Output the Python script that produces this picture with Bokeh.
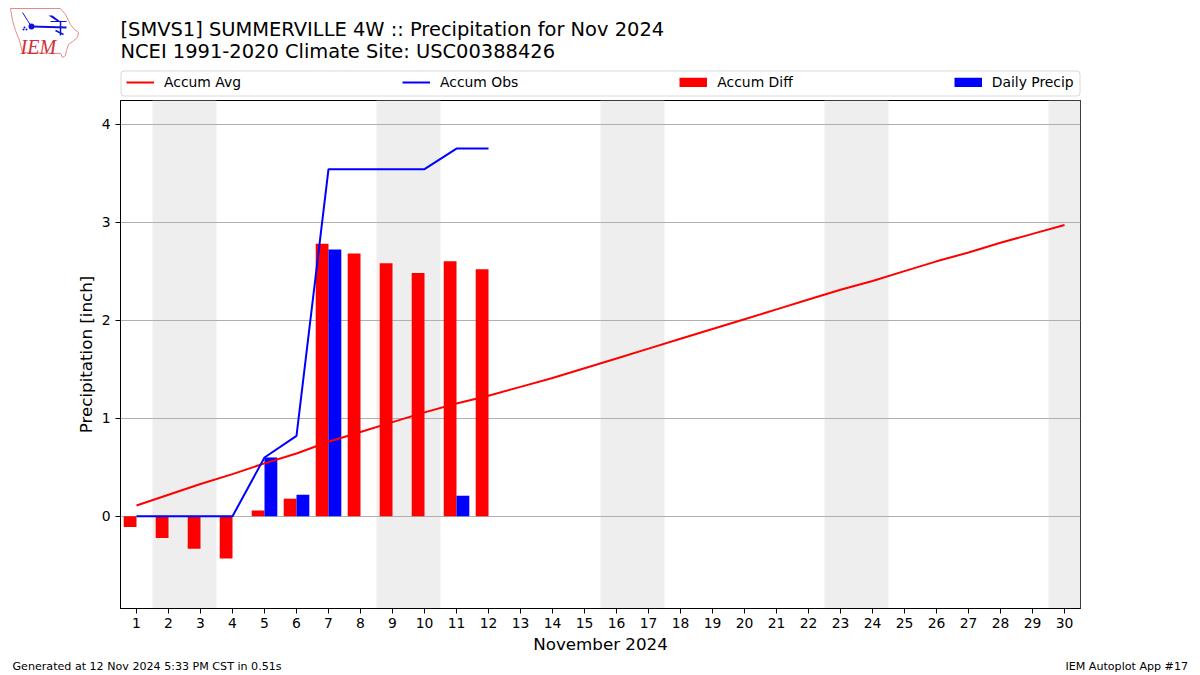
from bokeh.plotting import figure
from bokeh.embed import file_html
from bokeh.resources import INLINE
from bokeh.layouts import column
from bokeh.models import Range1d, FixedTicker, Legend, LegendItem, Label
from bokeh.models import ColumnDataSource

days = list(range(1, 31))
accum_avg = [0.11, 0.22, 0.33, 0.43, 0.54, 0.64, 0.76, 0.86, 0.96, 1.06, 1.15, 1.23, 1.32, 1.41, 1.51,
             1.61, 1.71, 1.81, 1.91, 2.01, 2.11, 2.21, 2.31, 2.40, 2.50, 2.60, 2.69, 2.79, 2.88, 2.97]
obs_days = [1, 2, 3, 4, 5, 6, 7, 8, 9, 10, 11, 12]
accum_obs = [0, 0, 0, 0, 0.60, 0.82, 3.54, 3.54, 3.54, 3.54, 3.75, 3.75]
accum_diff = [-0.11, -0.22, -0.33, -0.43, 0.06, 0.18, 2.78, 2.68, 2.58, 2.48, 2.60, 2.52]
daily_precip = [0, 0, 0, 0, 0.60, 0.22, 2.72, 0, 0, 0, 0.21, 0]
weekend_start = [1.5, 8.5, 15.5, 22.5, 29.5]
weekend_end = [3.5, 10.5, 17.5, 24.5, 30.5]
y_ticks = [0, 1, 2, 3, 4]

FONT = "DejaVu Sans"
Y_MIN, Y_MAX = -0.94, 4.24


def strip_figure(height, ymax):
    """A page-wide band whose data coordinates are page pixels (y pointing down)."""
    f = figure(width=1200, height=height, output_backend="svg", toolbar_location=None,
               x_range=Range1d(0, 1200), y_range=Range1d(ymax, ymax - height),
               min_border=0, x_axis_type=None, y_axis_type=None)
    f.xgrid.visible = False
    f.ygrid.visible = False
    f.outline_line_color = None
    f.background_fill_color = "white"
    f.border_fill_color = "white"
    return f


def put_text(f, txt, px, py, size, align="left", color="black", style="normal", font=FONT):
    f.add_layout(Label(x=px, y=py, text=txt, text_font=font, text_font_size=size, text_align=align,
                       text_baseline="alphabetic", text_color=color, text_font_style=style))


# ---- header: logo, titles, legend
head = strip_figure(100, 100)
put_text(head, "[SMVS1] SUMMERVILLE 4W :: Precipitation for Nov 2024", 120, 29, "19.45px")
put_text(head, "NCEI 1991-2020 Climate Site: USC00388426", 120, 51, "19.45px")

logo_x = [10, 60, 65, 68, 70, 73, 78, 77, 72, 68, 66, 65, 62, 60, 22, 19, 15, 12]
logo_y = [8, 8, 14, 20, 24, 28, 32, 37, 41, 44, 50, 55, 57, 53, 52, 40, 30, 20]
head.patch(logo_x, logo_y, fill_color=None, line_color="#e58a8a", line_width=1)
head.line([31, 66], [26, 27], line_color="#1010e0", line_width=2)
head.line([22, 27, 31], [12, 20, 26], line_color="#1010e0", line_width=1)
head.line([50, 66], [21, 21], line_color="#1010e0", line_width=1)
head.patch([48, 52, 60, 57], [15, 15, 21, 21], fill_color="#1010e0", line_color=None)
head.line([60, 60], [21, 35], line_color="#1010e0", line_width=1.5)
head.line([55, 63], [30, 34], line_color="#1010e0", line_width=1.5)
head.scatter([31], [26], size=6, fill_color="#1010e0", line_color=None)
head.scatter([24, 26, 23], [27, 29, 29], size=2, fill_color="#1010e0", line_color=None)
put_text(head, "IEM", 20, 46, "20px", color="#d0303a", style="italic", font="Liberation Serif")

head.quad(left=[120.5], right=[1079.5], top=[70.5], bottom=[95.5], border_radius=3,
          fill_color="white", line_color="#d9d9d9", line_width=1)
# legend keys: drawn off the band, only their swatches show
off = [-20, -10]
k_avg = head.line(off, off, line_color="red", line_width=2)
k_obs = head.line(off, off, line_color="blue", line_width=2)
k_diff = head.line(off, off, line_color="red", line_width=9.5)
k_rain = head.line(off, off, line_color="blue", line_width=9.5)
legend = Legend(items=[LegendItem(label="Accum Avg", renderers=[k_avg]),
                       LegendItem(label="Accum Obs", renderers=[k_obs]),
                       LegendItem(label="Accum Diff", renderers=[k_diff]),
                       LegendItem(label="Daily Precip", renderers=[k_rain])],
                orientation="horizontal", location=(126, 10), spacing=161,
                glyph_width=28, glyph_height=10, label_standoff=10,
                label_text_font=FONT, label_text_font_size="13.9px", label_text_color="black",
                label_height=14, margin=0, padding=4,
                border_line_color=None, background_fill_alpha=0)
head.add_layout(legend, "center")

# ---- main chart
p = figure(width=1200, height=558, output_backend="svg", toolbar_location=None,
           x_range=Range1d(0.5, 30.5), y_range=Range1d(Y_MIN, Y_MAX),
           min_border_left=120, min_border_right=120, min_border_top=0, min_border_bottom=50,
           frame_width=960, frame_height=508)
p.background_fill_color = "white"
p.border_fill_color = "white"
p.outline_line_color = "black"
p.outline_line_width = 1

p.xgrid.visible = False
p.ygrid.grid_line_color = "#b0b0b0"
p.ygrid.grid_line_width = 1.1
p.ygrid.ticker = FixedTicker(ticks=y_ticks)

p.xaxis.ticker = FixedTicker(ticks=days)
p.yaxis.ticker = FixedTicker(ticks=y_ticks)
for ax in (p.xaxis[0], p.yaxis[0]):
    ax.major_tick_in = 0
    ax.major_tick_out = 5
    ax.minor_tick_in = 0
    ax.minor_tick_out = 0
    ax.major_label_text_font = FONT
    ax.major_label_text_font_size = "13.9px"
    ax.major_label_text_color = "black"
    ax.axis_label_text_font = FONT
    ax.axis_label_text_font_size = "16.7px"
    ax.axis_label_text_font_style = "normal"
    ax.axis_label_text_color = "black"
    ax.axis_line_color = "black"
p.xaxis.axis_label = "November 2024"
p.yaxis.axis_label = "Precipitation [inch]"
p.xaxis.major_label_standoff = 4
p.xaxis.axis_label_standoff = 3
p.yaxis.axis_label_standoff = 3
p.yaxis.major_label_orientation = "horizontal"

p.quad(left=weekend_start, right=weekend_end, bottom=Y_MIN, top=Y_MAX,
       fill_color="#eeeeee", line_color=None, level="image")

diff_src = ColumnDataSource(dict(x=[d - 0.2 for d in obs_days], top=accum_diff))
rain_src = ColumnDataSource(dict(x=[d + 0.2 for d in obs_days], top=daily_precip))
p.vbar(x="x", top="top", bottom=0, width=0.4, source=diff_src, fill_color="red", line_color=None)
p.vbar(x="x", top="top", bottom=0, width=0.4, source=rain_src, fill_color="blue", line_color=None)
p.line(days, accum_avg, line_color="red", line_width=2)
p.line(obs_days, accum_obs, line_color="blue", line_width=2)

# ---- footer
foot = strip_figure(17, 675)
put_text(foot, "Generated at 12 Nov 2024 5:33 PM CST in 0.51s", 12, 666, "11.1px")
put_text(foot, "IEM Autoplot App #17", 1187.5, 666, "11.1px", align="right")

# each figure in its own column so the outer column does not line up their frames
page = column(column(head, spacing=0), column(p, spacing=0), column(foot, spacing=0), spacing=0)
open("out.html", "w").write(file_html(page, INLINE))
